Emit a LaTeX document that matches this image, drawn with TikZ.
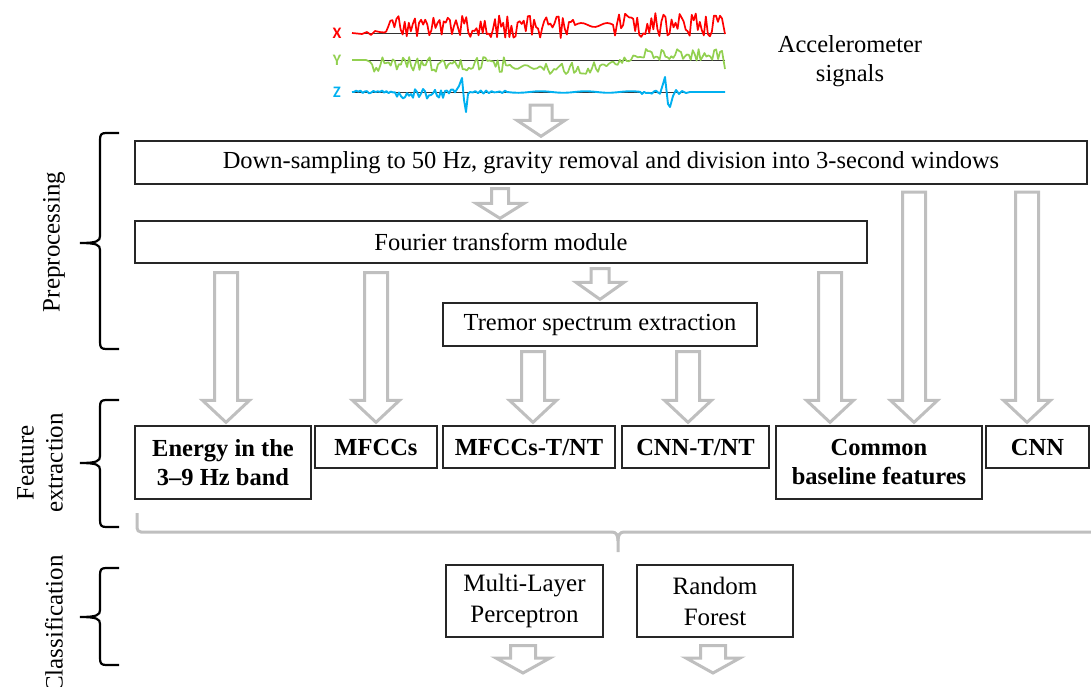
\documentclass[tikz,border=0pt]{standalone}
\usepackage{fontspec}
\setmainfont{Liberation Serif}
\newfontfamily\axisfont{Carlito}
\usetikzlibrary{calc}

\definecolor{arrowgray}{RGB}{191,191,191}
\definecolor{sigred}{RGB}{255,0,0}
\definecolor{siggreen}{RGB}{146,208,80}
\definecolor{sigblue}{RGB}{0,176,240}

% hollow block arrow: start, tip, shaft width, head width, head length
\newcommand\hollowarrow[5]{%
  \draw[flowarrow] let \p1=#1, \p2=#2 in
    ({\x1-#3/2},\y1) -- ({\x1-#3/2},{\y2+#5}) -- ({\x1-#4/2},{\y2+#5}) -- (\x1,\y2)
    -- ({\x1+#4/2},{\y2+#5}) -- ({\x1+#3/2},{\y2+#5}) -- ({\x1+#3/2},\y1) -- cycle;}

% curly brace opening to the right: top, middle, bottom
\newcommand\stagebrace[3]{%
  \draw[stagebrc] (119,#1) -- (106,#1) .. controls (101,#1) and (100,#1+2) .. (100,#1+7)
    -- (100,#2-7) .. controls (100,#2-2) and (97,#2) .. (80,#2)
    .. controls (97,#2) and (100,#2+2) .. (100,#2+7)
    -- (100,#3-7) .. controls (100,#3-2) and (101,#3) .. (106,#3) -- (119,#3);}

\begin{document}
\begin{tikzpicture}[x=1pt,y=-1pt,
  box/.style={draw=black!85, line width=1.3pt, fill=white, inner sep=0pt, align=center,
    font=\fontsize{24.5}{28.5}\selectfont},
  featbox/.style={box, font=\fontsize{24.5}{29}\selectfont\bfseries},
  clsbox/.style={box, font=\fontsize{25}{31}\selectfont},
  flowarrow/.style={draw=arrowgray, line width=3pt, fill=white, line join=miter},
  stagebrc/.style={draw=black, line width=2.2pt},
  stagelabel/.style={rotate=90, align=center, font=\fontsize{25}{29}\selectfont},
  sigline/.style={line width=1.7pt, line join=round},
  baseline/.style={draw=black!80, line width=0.9pt},
  axislbl/.style={font=\axisfont\bfseries\fontsize{16}{16}\selectfont}]
\useasboundingbox (0,0) rectangle (1091,686);

% ---- accelerometer traces ----
\draw[baseline] (352,33) -- (725,33);
\draw[baseline] (352,60) -- (725,60);
\draw[baseline] (352,92) -- (725,92);
\node[axislbl, text=sigred]   (lx) at (337,33) {X};
\node[axislbl, text=siggreen] (ly) at (337,60) {Y};
\node[axislbl, text=sigblue]  (lz) at (337,92) {Z};

\pgfmathsetseed{11}
\draw[sigline, sigred] (352,33) -- (362,34) -- (367,32) -- (371,35) -- (375,31)
  -- plot[domain=378:573, samples=96] (\x,{33-(7+12*rand)*min(1,(\x-374)/22)})
  -- plot[domain=575:613, samples=14] (\x,{25-2*sin(14*(\x-575))})
  -- plot[domain=615:722, samples=54] (\x,{33-(8+12*rand)})
  -- (725,34);

\pgfmathsetseed{23}
\draw[sigline, siggreen] (352,60) -- (366,60)
  -- plot[domain=368:510, samples=70] (\x,{65+8*rand})
  -- plot[domain=512:540, samples=10] (\x,{67+2*sin(20*(\x-512))})
  -- plot[domain=542:600, samples=30] (\x,{67+7*rand})
  -- plot[domain=602:640, samples=18] (\x,{67-(\x-600)/40*11+3*rand})
  -- plot[domain=642:722, samples=42] (\x,{55-6*rand})
  -- (725,69);

\pgfmathsetseed{5}
\draw[sigline, sigblue, line width=1.9pt] (352,92)
  -- plot[domain=354:395, samples=20] (\x,{92+1.5*rand})
  -- plot[domain=397:455, samples=30] (\x,{94+5*rand})
  -- (459,86) -- (462,78) -- (464,100) -- (466,112) -- (468,94)
  -- plot[domain=470:505, samples=14] (\x,{92+1.5*sin(60*(\x-470))})
  -- plot[domain=507:640, samples=24] (\x,{92+0.8*sin(8*(\x-507))})
  -- plot[domain=642:660, samples=10] (\x,{92+2*rand})
  -- (663,84) -- (665,77) -- (668,104) -- (670,107) -- (673,96) -- (676,90)
  -- (679,94) -- (682,91) -- (686,93) -- (690,92) -- (725,92);
\coordinate (sigout) at (541,105);

\node[align=center, font=\fontsize{24.5}{29}\selectfont] (acc) at (850,61)
  {Accelerometer\\signals};

% ---- processing boxes ----
\node[box, minimum width=952pt, minimum height=43pt] (ds) at (611,162.5)
  {Down-sampling to 50 Hz, gravity removal and division into 3-second windows};
\node[box, minimum width=732pt, minimum height=42pt] (ft) at (501,242)
  {Fourier transform module};
\node[box, minimum width=314pt, minimum height=43pt] (tremor) at (600,324.5)
  {Tremor spectrum extraction};

\node[featbox, minimum width=176pt, minimum height=73pt] (energy) at (223,462.5)
  {Energy in the\\3--9 Hz band};
\node[featbox, minimum width=122pt, minimum height=42pt] (mfcc) at (376,447) {MFCCs};
\node[featbox, minimum width=172pt, minimum height=42pt] (mfcct) at (529,447) {MFCCs-T/NT};
\node[featbox, minimum width=147pt, minimum height=42pt] (cnnt) at (695.5,447) {CNN-T/NT};
\node[featbox, minimum width=206pt, minimum height=73pt] (common) at (879,462.5)
  {Common\\baseline features};
\node[featbox, minimum width=103pt, minimum height=42pt] (cnn) at (1037.5,447) {CNN};

\node[clsbox, minimum width=157pt, minimum height=72pt] (mlp) at (524.5,601)
  {Multi-Layer\\Perceptron};
\node[clsbox, minimum width=156pt, minimum height=72pt] (rf) at (715,601)
  {Random\\Forest};

% ---- arrow columns ----
\coordinate (c1) at (226,0);
\coordinate (c2) at (376,0);
\coordinate (c3) at (533,0);
\coordinate (c4) at (688,0);
\coordinate (c5) at (830,0);
\coordinate (c6) at (914,0);
\coordinate (c7) at (1027,0);
\coordinate (c8) at (500,0);
\coordinate (c9) at (600,0);
\coordinate (out1) at (523,673);
\coordinate (out2) at (713,673);

% ---- arrows ----
\hollowarrow{(sigout)}{($(ds.north -| sigout)+(0,-4)$)}{22}{48}{16}
\hollowarrow{($(ds.south -| c8)+(0,4)$)}{($(ft.north -| c8)+(0,-2)$)}{17}{48}{15}
\hollowarrow{($(ft.south -| c9)+(0,5)$)}{($(tremor.north -| c9)+(0,-3)$)}{18}{48}{17}

\hollowarrow{($(ft.south -| c1)+(0,9)$)}{($(energy.north -| c1)+(0,-3)$)}{23}{47}{22}
\hollowarrow{($(ft.south -| c2)+(0,9)$)}{($(mfcc.north -| c2)+(0,-3)$)}{23}{47}{22}
\hollowarrow{($(tremor.south -| c3)+(0,5)$)}{($(mfcct.north -| c3)+(0,-3)$)}{23}{47}{22}
\hollowarrow{($(tremor.south -| c4)+(0,5)$)}{($(cnnt.north -| c4)+(0,-3)$)}{23}{47}{22}
\hollowarrow{($(ft.south -| c5)+(0,9)$)}{($(common.north -| c5)+(0,-3)$)}{23}{47}{22}
\hollowarrow{($(ds.south -| c6)+(0,7.5)$)}{($(common.north -| c6)+(0,-3)$)}{23}{47}{22}
\hollowarrow{($(ds.south -| c7)+(0,7.5)$)}{($(cnn.north -| c7)+(0,-3)$)}{23}{47}{22}

\hollowarrow{($(mlp.south -| out1)+(0,8)$)}{(out1)}{25}{54}{15}
\hollowarrow{($(rf.south -| out2)+(0,8)$)}{(out2)}{25}{54}{15}

% ---- grey brace gathering the features ----
\draw[draw=arrowgray, line width=3pt, rounded corners=4pt]
  (137,513) -- (137,532) -- (612,532);
\draw[draw=arrowgray, line width=3pt]
  (612,532) .. controls (616,532) and (618,535) .. (618,541) -- (618,552);
\draw[draw=arrowgray, line width=3pt]
  (618,541) .. controls (618,535) and (620,532) .. (624,532) -- (1091,532);

% ---- stage braces and labels ----
\stagebrace{133}{243}{349}
\stagebrace{400}{463}{527}
\stagebrace{568}{617}{665}
\node[stagelabel] (lpre) at (54,242) {Preprocessing};
\node[stagelabel] (lfeat) at (40,463) {Feature\\extraction};
\node[stagelabel] (lcls) at (54,624) {Classification};
\end{tikzpicture}
\end{document}
